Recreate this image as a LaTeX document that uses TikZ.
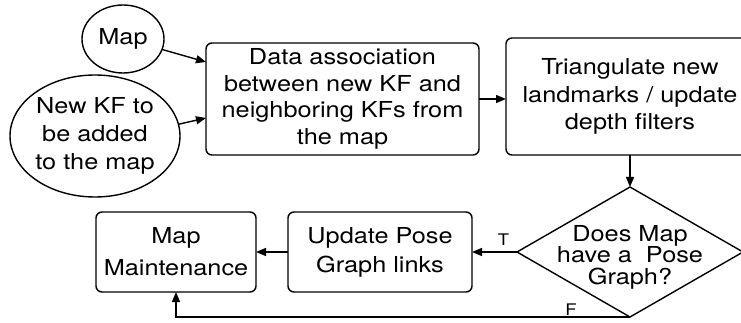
\documentclass[tikz,border=0pt]{standalone}
\usepackage{fontspec}
\setmainfont{TeX Gyre Heros}[FakeStretch=1.15]
\usetikzlibrary{shapes.geometric,arrows.meta}
\begin{document}
\begin{tikzpicture}[x=1pt,y=-1pt,
  every node/.style={inner sep=0pt,outer sep=0pt,align=center},
  txt/.style={font=\fontsize{22}{#1}\selectfont},
  oval/.style={draw,ellipse,line width=1.4pt},
  box/.style={draw,rectangle,rounded corners=6pt,line width=1.4pt},
  dia/.style={draw,diamond,line width=1.4pt},
  conn/.style={line width=1.4pt,-{Triangle[length=10pt,width=8pt]}},
  lab/.style={font=\fontsize{16}{18}\selectfont}]
\clip (0,0) rectangle (741,323);
\node[oval,minimum width=82pt,minimum height=68pt,txt=25] (map) at (123,39) {Map};
\node[oval,minimum width=170pt,minimum height=122pt,txt=28] (newkf) at (95,136) {New KF to\\be added\\to the map};
\node[box,minimum width=273pt,minimum height=112pt,txt=26.7] (data) at (342.5,99) {Data association\\between new KF and\\neighboring KFs from\\the map};
\node[box,minimum width=248pt,minimum height=117pt,txt=27.5] (tri) at (630,96.5) {Triangulate new\\landmarks / update\\depth filters};
\node[dia,minimum width=226pt,minimum height=130pt] (dec) at (630,252) {};
\node[txt=21.5] (dectext) at (630,257) {Does Map\\have a~ Pose\\Graph?};
\node[box,minimum width=184pt,minimum height=80pt,txt=29] (upd) at (380,252) {Update Pose\\Graph links};
\node[box,minimum width=160pt,minimum height=80pt,txt=32] (mm) at (176,252) {Map\\Maintenance};
\draw[conn] (map.-15) -- ([yshift=37pt]data.west);
\draw[conn] (newkf.8) -- ([yshift=-19pt]data.west);
\draw[conn] (data.east) -- (tri.west |- data.east);
\draw[conn] (tri.south) -- (dec.north);
\draw[conn] (dec.west) -- node[lab,above=7pt,pos=0.3] (t) {T} (upd.east);
\draw[conn] (upd.west) -- (mm.east);
\draw[conn] (dec.south) -- node[lab,above=2pt,pos=0.13] (f) {F} (mm.south |- dec.south) -- (mm.south);
\end{tikzpicture}
\end{document}
